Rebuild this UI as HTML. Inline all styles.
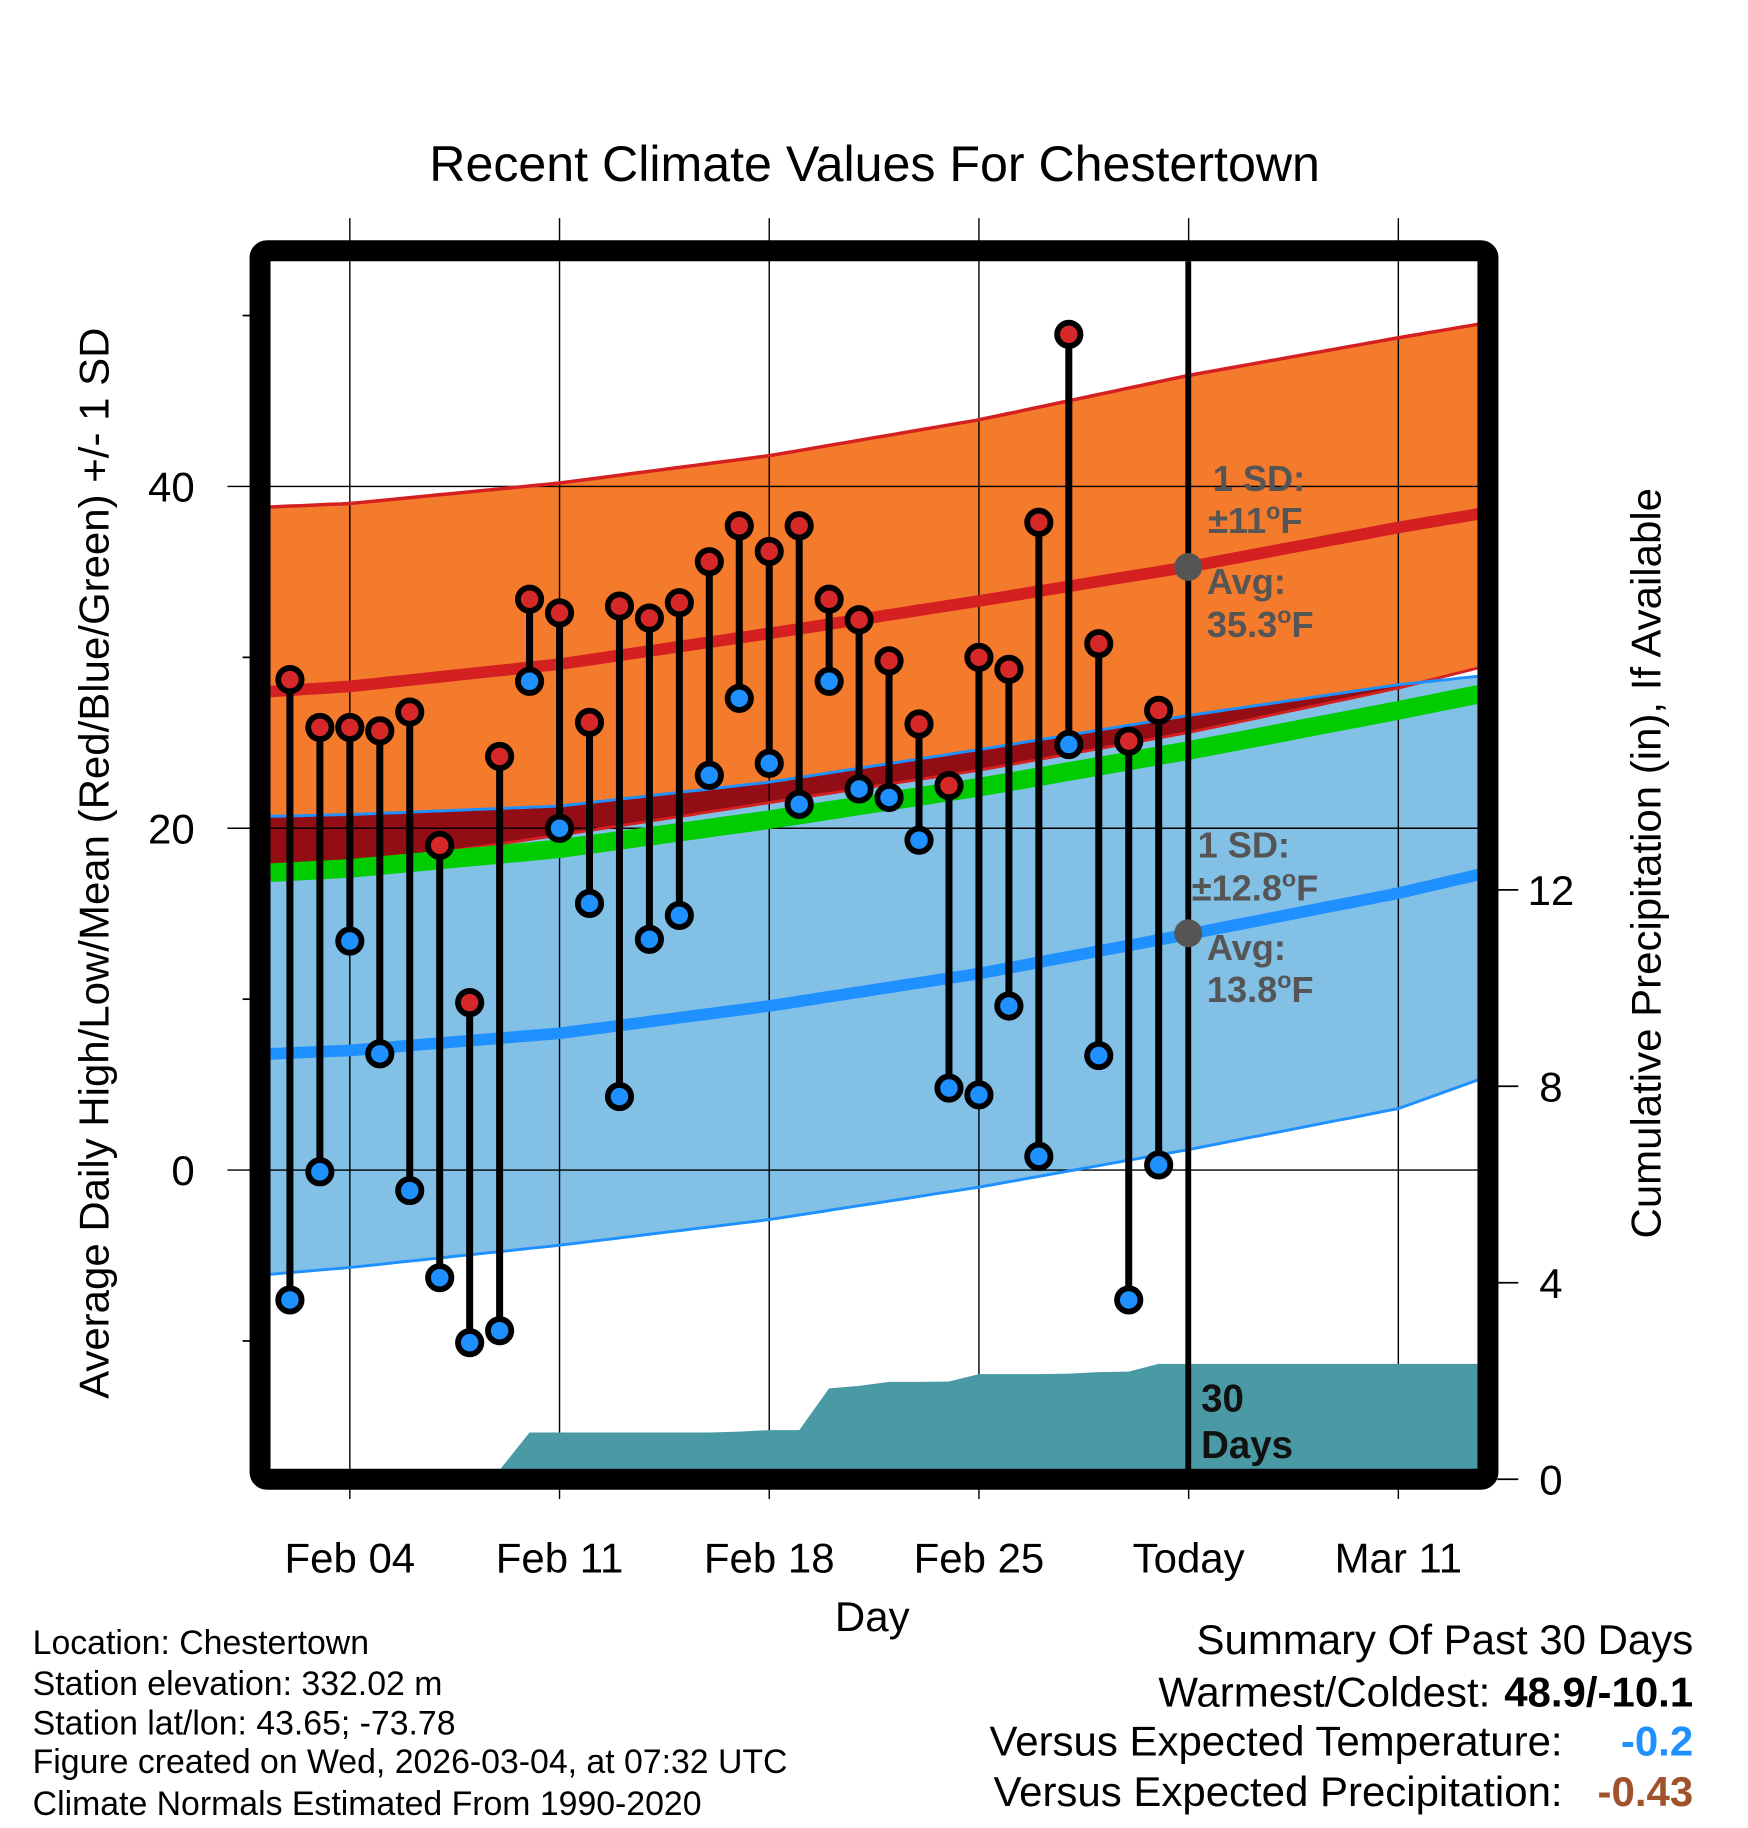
<!DOCTYPE html>
<html><head><meta charset="utf-8"><style>
html,body{margin:0;padding:0;background:#fff}
svg{display:block}
text{font-family:"Liberation Sans",Arial,sans-serif}
</style></head><body>
<svg id="chart" xmlns="http://www.w3.org/2000/svg" width="1748" height="1828" viewBox="0 0 1499 1567" preserveAspectRatio="none">
<g id="bands"></g>
<g id="grid"></g>
<g id="lines"></g>
<g id="precip"></g>
<line x1="1019" y1="224" x2="1019" y2="1260" stroke="#000" stroke-width="5"/>
<g id="marks"></g>
<rect x="223" y="215" width="1053" height="1053" fill="none" stroke="#000" stroke-width="18" rx="6"/>
<g id="axes"></g>

<text x="750" y="155" font-size="43" text-anchor="middle">Recent Climate Values For Chestertown</text>
<text x="748" y="1398" font-size="36" text-anchor="middle">Day</text>
<text transform="translate(93,740) rotate(-90)" font-size="36" text-anchor="middle">Average Daily High/Low/Mean (Red/Blue/Green) +/- 1 SD</text>
<text transform="translate(1424,740) rotate(-90)" font-size="36" text-anchor="middle">Cumulative Precipitation (in), If Available</text>

<g fill="#555" font-weight="bold" font-size="31">
<text x="1040" y="421">1 SD:</text>
<text x="1036" y="457">±11<tspan font-size="20" dy="-12">o</tspan><tspan dy="12">F</tspan></text>
<circle cx="1019" cy="486" r="12" fill="#555"/>
<text x="1035" y="509">Avg:</text>
<text x="1035" y="546">35.3<tspan font-size="20" dy="-12">o</tspan><tspan dy="12">F</tspan></text>
</g>
<g fill="#555" font-weight="bold" font-size="31">
<text x="1027" y="735">1 SD:</text>
<text x="1022" y="772">±12.8<tspan font-size="20" dy="-12">o</tspan><tspan dy="12">F</tspan></text>
<circle cx="1019" cy="800" r="12" fill="#555"/>
<text x="1035" y="823">Avg:</text>
<text x="1035" y="859">13.8<tspan font-size="20" dy="-12">o</tspan><tspan dy="12">F</tspan></text>
</g>
<g font-weight="bold" font-size="33" fill="#111">
<text x="1030" y="1210">30</text><text x="1030" y="1250">Days</text>
</g>

<g font-size="29">
<text x="28" y="1418">Location: Chestertown</text>
<text x="28" y="1453">Station elevation: 332.02 m</text>
<text x="28" y="1487">Station lat/lon: 43.65; -73.78</text>
<text x="28" y="1520">Figure created on Wed, 2026-03-04, at 07:32 UTC</text>
<text x="28" y="1556">Climate Normals Estimated From 1990-2020</text>
</g>
<g font-size="36">
<text x="1452" y="1418" text-anchor="end">Summary Of Past 30 Days</text>
<text x="1278" y="1463" text-anchor="end">Warmest/Coldest:</text>
<text x="1452" y="1463" text-anchor="end" font-weight="bold">48.9/-10.1</text>
<text x="1340" y="1505" text-anchor="end">Versus Expected Temperature:</text>
<text x="1452" y="1505" text-anchor="end" font-weight="bold" fill="#1e90ff">-0.2</text>
<text x="1340" y="1548" text-anchor="end">Versus Expected Precipitation:</text>
<text x="1452" y="1548" text-anchor="end" font-weight="bold" fill="#a0522d">-0.43</text>
</g>
</svg>
<script>
// ---- data ----
const normDays = [1.35, 4, 11, 18, 25, 32, 39, 41.7];
const highUpper = [38.8, 39.0, 40.2, 41.8, 43.9, 46.5, 48.7, 49.5];
const highAvg = [28.0, 28.3, 29.6, 31.4, 33.3, 35.3, 37.6, 38.4];
const highLower = [17.1, 17.8, 19.6, 21.5, 23.4, 25.6, 28.2, 29.4];
const lowUpper = [20.7, 20.8, 21.3, 22.7, 24.6, 26.6, 28.4, 28.9];
const lowAvg = [6.8, 7.0, 8.0, 9.6, 11.5, 13.8, 16.2, 17.3];
const lowLower = [-6.1, -5.7, -4.4, -2.9, -1.0, 1.2, 3.6, 5.3];
const obsDays = [2,3,4,5,6,7,8,9,10,11,12,13,14,15,16,17,18,19,20,21,22,23,24,25,26,27,28,29,30,31];
const obsHigh = [28.7,25.9,25.9,25.7,26.8,19.0,9.8,24.2,33.4,32.6,26.2,33.0,32.3,33.2,35.6,37.7,36.2,37.7,33.4,32.2,29.8,26.1,22.5,30.0,29.3,37.9,48.9,30.8,25.1,26.9];
const obsLow = [-7.6,-0.1,13.4,6.8,-1.2,-6.3,-10.1,-9.4,28.6,20.0,15.6,4.3,13.5,14.9,23.1,27.6,23.8,21.4,28.6,22.3,21.8,19.3,4.8,4.4,9.6,0.8,24.9,6.7,-7.6,0.3];
const precipDays = [1,9,10,16,17,18,19,20,21,22,23,24,25,26,27,28,29,30,31,41.7];
const precipCum = [0,0,0.95,0.95,0.97,1.0,1.0,1.85,1.9,1.98,1.98,1.99,2.14,2.14,2.14,2.15,2.18,2.19,2.35,2.35];
const xTickDays = [4, 11, 18, 25, 32, 39];
const xTickLabels = ["Feb 04", "Feb 11", "Feb 18", "Feb 25", "Today", "Mar 11"];
const yTicks = [0, 20, 40];
const yMinor = [-10, 10, 30, 50];
const y2Ticks = [0, 4, 8, 12];

// ---- scales ----
const X = d => 300 + (d - 4) * 25.69;
const Y = v => 1003 - 14.65 * v;
const Y2 = p => 1268 - 42.1 * p;
const NS = "http://www.w3.org/2000/svg";
function mk(parent, tag, attrs) { const e = document.createElementNS(NS, tag); for (const k in attrs) e.setAttribute(k, attrs[k]); parent.appendChild(e); return e; }
function interp(xs, ys, x) {
  if (x <= xs[0]) return ys[0];
  for (let i = 1; i < xs.length; i++) if (x <= xs[i]) { const t = (x - xs[i-1]) / (xs[i] - xs[i-1]); return ys[i-1] + t * (ys[i] - ys[i-1]); }
  return ys[ys.length - 1];
}
const samp = []; for (let i = 0; i <= 120; i++) samp.push(normDays[0] + (normDays[normDays.length-1] - normDays[0]) * i / 120);
const ptsOf = arr => samp.map(d => X(d).toFixed(1) + "," + Y(interp(normDays, arr, d)).toFixed(1));
const bands = document.getElementById('bands');
let e;
e = mk(bands, 'polygon', {points: ptsOf(highUpper).concat(ptsOf(highLower).reverse()).join(' '), fill: '#f47a2c'});


e = mk(bands, 'polygon', {points: ptsOf(lowUpper).concat(ptsOf(lowLower).reverse()).join(' '), fill: '#82c0e6'});


const ovTop = samp.map(d => X(d).toFixed(1) + "," + Y(interp(normDays, lowUpper, d)).toFixed(1));
const ovBot = samp.map(d => X(d).toFixed(1) + "," + Y(Math.min(interp(normDays, lowUpper, d), interp(normDays, highLower, d))).toFixed(1));
e = mk(bands, 'polygon', {points: ovTop.concat(ovBot.reverse()).join(' '), fill: '#930d15'});



// grid
const grid = document.getElementById('grid');
xTickDays.forEach(d => {
  e = mk(grid, 'line', {x1: X(d), x2: X(d), y1: 187, y2: 1285, stroke: '#000', 'stroke-width': 1.2});
  
  
});
yTicks.forEach(v => {
  e = mk(grid, 'line', {x1: 195, x2: 1268, y1: Y(v), y2: Y(v), stroke: '#000', 'stroke-width': 1.2});
  
  
});

// lines
const lines = document.getElementById('lines');
const pl = (arr, col, w, name) => { e = mk(lines, 'polyline', {points: ptsOf(arr).join(' '), fill: 'none', stroke: col, 'stroke-width': w});   };
pl(highLower, '#d42020', 2.5, 'high-lower-line');
pl(lowUpper, '#1e90ff', 2.5, 'low-upper-line');
pl(lowLower, '#1e90ff', 2.5, 'low-lower-line');
pl(highUpper, '#d42020', 3, 'high-upper-line');
const meanArr = highAvg.map((h, i) => (h + lowAvg[i]) / 2);
pl(meanArr, '#00cc00', 16, 'mean-line');
pl(highAvg, '#d42020', 10, 'high-avg-line');
pl(lowAvg, '#1e90ff', 10, 'low-avg-line');

// precip
const pg = document.getElementById('precip');
const pp = precipDays.map((d, i) => X(Math.min(d, 41.7)).toFixed(1) + "," + Math.min(Y2(precipCum[i]), 1260).toFixed(1));
pp.push(X(41.7).toFixed(1) + ",1260", X(1).toFixed(1) + ",1260");
e = mk(pg, 'polygon', {points: pp.join(' '), fill: '#4a9aa5'});



// marks
const mg = document.getElementById('marks');
obsDays.forEach((d, i) => {
  const x = X(d);
  e = mk(mg, 'line', {x1: x, x2: x, y1: Y(obsHigh[i]), y2: Y(obsLow[i]), stroke: '#000', 'stroke-width': 6});
  
  
});
obsDays.forEach((d, i) => {
  const x = X(d);
  e = mk(mg, 'circle', {cx: x, cy: Y(obsHigh[i]), r: 10, fill: '#d62828', stroke: '#000', 'stroke-width': 5});
  
  
  e = mk(mg, 'circle', {cx: x, cy: Y(obsLow[i]), r: 10, fill: '#1e90ff', stroke: '#000', 'stroke-width': 5});
  
  
});

// axes
const ax = document.getElementById('axes');
xTickDays.forEach((d, i) => {
  e = mk(ax, 'text', {x: X(d), y: 1348, 'font-size': 36, 'text-anchor': 'middle'});
  e.textContent = xTickLabels[i];
  
  
});
yTicks.forEach(v => {
  e = mk(ax, 'text', {x: 167, y: Y(v) + 13, 'font-size': 36, 'text-anchor': 'end'});
  e.textContent = v;
  
  
});
yMinor.forEach(v => {
  e = mk(ax, 'line', {x1: 208, x2: 215, y1: Y(v), y2: Y(v), stroke: '#000', 'stroke-width': 1.5});
  
  
});
y2Ticks.forEach(p => {
  e = mk(ax, 'line', {x1: 1284, x2: 1302, y1: Y2(p), y2: Y2(p), stroke: '#000', 'stroke-width': 1.5});
  
  
  e = mk(ax, 'text', {x: 1330, y: Y2(p) + 13, 'font-size': 36, 'text-anchor': 'middle'});
  e.textContent = p;
  
  
});
</script>
</body></html>
